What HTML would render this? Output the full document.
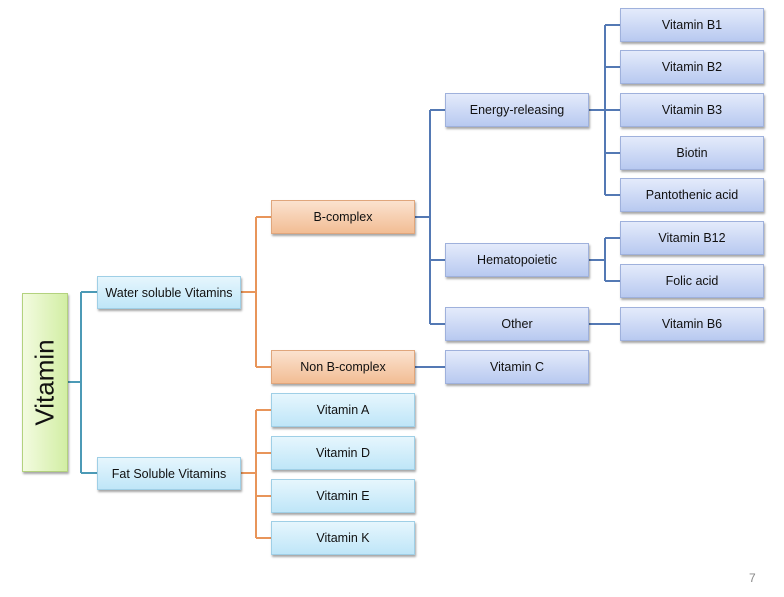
<!DOCTYPE html>
<html><head><style>
body{margin:0;width:784px;height:597px;background:#fff;position:relative;overflow:hidden;font-family:"Liberation Sans",sans-serif;}
.b{position:absolute;box-sizing:border-box;display:flex;align-items:center;justify-content:center;font-size:12.5px;color:#111;box-shadow:1px 2px 2px rgba(0,0,0,.35);}
.bl{background:linear-gradient(#e4ebfb,#b8c9f0);border:1px solid #9fb1dc;}
.cy{background:linear-gradient(#e6f6fd,#bfe6f8);border:1px solid #9fcfe6;}
.or{background:linear-gradient(#fbe2cf,#f2bd94);border:1px solid #e0a67c;}
svg{position:absolute;left:0;top:0}
</style></head><body>
<svg width="784" height="597">
<g fill="none" stroke-width="2">
<path d="M68 382H81M81 292V473M81 292H97M81 473H97" stroke="#4c9ab6"/>
<path d="M241 292H256M256 217V367M256 217H271M256 367H271M241 473H256M256 410V538M256 410H271M256 453H271M256 496H271M256 538H271" stroke="#e8955a"/>
<path d="M415 217H430M430 110V324M430 110H445M430 260H445M430 324H445M415 367H445M589 110H605M605 25V195M605 25H620M605 67H620M605 110H620M605 153H620M605 195H620M589 260H605M605 238V281M605 238H620M605 281H620M589 324H620" stroke="#5479b4"/>
</g>
</svg>
<div class="b" style="left:22px;top:293px;width:46px;height:179px;background:linear-gradient(90deg,#f3fbe0,#d2eea4);border:1px solid #b3d27e;"><span style="transform:rotate(-90deg);font-size:26px;white-space:nowrap">Vitamin</span></div>
<div class="b cy" style="left:97px;top:276px;width:144px;height:33px">Water soluble Vitamins</div>
<div class="b cy" style="left:97px;top:457px;width:144px;height:33px">Fat Soluble Vitamins</div>
<div class="b or" style="left:271px;top:200px;width:144px;height:34px">B-complex</div>
<div class="b or" style="left:271px;top:350px;width:144px;height:34px">Non B-complex</div>
<div class="b cy" style="left:271px;top:393px;width:144px;height:34px">Vitamin A</div>
<div class="b cy" style="left:271px;top:436px;width:144px;height:34px">Vitamin D</div>
<div class="b cy" style="left:271px;top:479px;width:144px;height:34px">Vitamin E</div>
<div class="b cy" style="left:271px;top:521px;width:144px;height:34px">Vitamin K</div>
<div class="b bl" style="left:445px;top:93px;width:144px;height:34px">Energy-releasing</div>
<div class="b bl" style="left:445px;top:243px;width:144px;height:34px">Hematopoietic</div>
<div class="b bl" style="left:445px;top:307px;width:144px;height:34px">Other</div>
<div class="b bl" style="left:445px;top:350px;width:144px;height:34px">Vitamin C</div>
<div class="b bl" style="left:620px;top:8px;width:144px;height:34px">Vitamin B1</div>
<div class="b bl" style="left:620px;top:50px;width:144px;height:34px">Vitamin B2</div>
<div class="b bl" style="left:620px;top:93px;width:144px;height:34px">Vitamin B3</div>
<div class="b bl" style="left:620px;top:136px;width:144px;height:34px">Biotin</div>
<div class="b bl" style="left:620px;top:178px;width:144px;height:34px">Pantothenic acid</div>
<div class="b bl" style="left:620px;top:221px;width:144px;height:34px">Vitamin B12</div>
<div class="b bl" style="left:620px;top:264px;width:144px;height:34px">Folic acid</div>
<div class="b bl" style="left:620px;top:307px;width:144px;height:34px">Vitamin B6</div>
<div style="position:absolute;left:749px;top:571px;font-size:12px;color:#888">7</div>
</body></html>
